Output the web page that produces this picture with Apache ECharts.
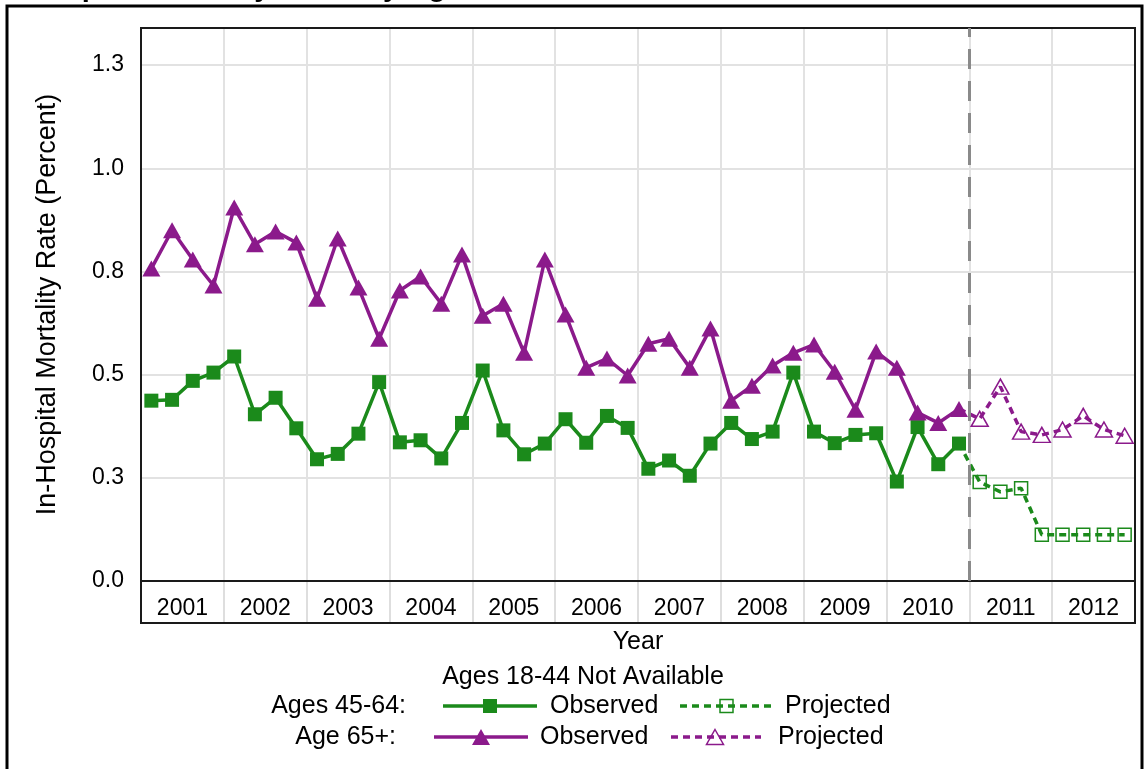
<!DOCTYPE html>
<html><head><meta charset="utf-8">
<script src="https://cdn.jsdelivr.net/npm/echarts@6/dist/echarts.min.js"></script>
<style>html,body{margin:0;padding:0;background:#fff}#c{width:1148px;height:769px}</style>
</head><body><div id="c"></div>
<script>
// ---------- DATA ----------
const years = ['2001','2002','2003','2004','2005','2006','2007','2008','2009','2010','2011','2012'];
const quarterNames = ['Q1','Q2','Q3','Q4'];
// Ages 45-64, observed 2001 Q1 .. 2010 Q4
const obs4564 = [
  0.437, 0.439, 0.485, 0.505,
  0.544, 0.404, 0.444, 0.370,
  0.295, 0.308, 0.357, 0.482,
  0.336, 0.341, 0.297, 0.383,
  0.510, 0.365, 0.307, 0.333,
  0.392, 0.335, 0.400, 0.371,
  0.272, 0.292, 0.255, 0.333,
  0.383, 0.344, 0.362, 0.505,
  0.362, 0.334, 0.354, 0.358,
  0.241, 0.373, 0.283, 0.333
];
// Ages 45-64, projected 2011 Q1 .. 2012 Q4
const proj4564 = [0.240, 0.216, 0.225, 0.112, 0.112, 0.112, 0.112, 0.112];
// Age 65+, observed
const obs65 = [
  0.757, 0.850, 0.779, 0.716,
  0.905, 0.816, 0.847, 0.820,
  0.684, 0.830, 0.711, 0.587,
  0.704, 0.738, 0.672, 0.791,
  0.643, 0.672, 0.553, 0.779,
  0.646, 0.517, 0.539, 0.498,
  0.575, 0.587, 0.517, 0.612,
  0.437, 0.473, 0.522, 0.553,
  0.573, 0.507, 0.415, 0.556,
  0.517, 0.408, 0.383, 0.417
];
// Age 65+, projected
const proj65 = [0.393, 0.471, 0.362, 0.354, 0.367, 0.400, 0.367, 0.352];
const yTickValues = [0, 0.25, 0.5, 0.75, 1.0, 1.25];
const yTickLabels = ['0.0', '0.3', '0.5', '0.8', '1.0', '1.3'];
const yMax = 1.34;

// ---------- BUILD ----------
const quarters = [];
years.forEach(y => quarterNames.forEach(q => quarters.push(y + ' ' + q)));
function projSeriesData(obs, proj) {
  const d = obs.map(() => null);
  d[obs.length - 1] = { value: obs[obs.length - 1], symbol: 'none' };
  return d.concat(proj);
}
const GREEN = '#1b8a1b';
const PURPLE = '#8b1a8b';
const FONT = 'Liberation Sans, Arial, sans-serif';

const chart = echarts.init(document.getElementById('c'), null, { renderer: 'canvas' });

const legendY1 = 706, legendY2 = 737;
function tri(cx, cy, w, h) {
  return [[cx, cy - h / 2], [cx + w / 2, cy + h / 2], [cx - w / 2, cy + h / 2]];
}

chart.setOption({
  backgroundColor: '#fff',
  animation: false,
  textStyle: { fontFamily: FONT },
  grid: [
    { left: 141, right: 13, top: 28, bottom: 188, show: true, borderColor: '#1a1a1a', borderWidth: 2, z: 3 },
    { left: 141, right: 13, top: 581, height: 42, show: true, borderColor: '#1a1a1a', borderWidth: 2, z: 3 }
  ],
  xAxis: [
    { gridIndex: 0, type: 'category', data: quarters, boundaryGap: true,
      axisLine: { show: false }, axisTick: { show: false }, axisLabel: { show: false },
      splitLine: { show: true, interval: 3, lineStyle: { color: '#e2e2e2', width: 2 } } },
    { gridIndex: 0, type: 'value', min: 0, max: quarters.length, show: false,
      axisLine: { show: false }, splitLine: { show: false } },
    { gridIndex: 1, type: 'category', data: years, boundaryGap: true, position: 'bottom',
      axisLine: { show: false }, axisTick: { show: false },
      splitLine: { show: true, interval: 0, lineStyle: { color: '#dedede', width: 2 } },
      axisLabel: { inside: true, fontSize: 23, color: '#000', margin: 3, fontFamily: FONT },
      name: 'Year', nameLocation: 'middle', nameGap: 7,
      nameTextStyle: { fontSize: 25, color: '#000', fontFamily: FONT, verticalAlign: 'top' } }
  ],
  yAxis: [
    { gridIndex: 0, type: 'value', min: 0, max: yMax, interval: 0.25,
      axisLine: { show: false }, axisTick: { show: false },
      splitLine: { show: true, lineStyle: { color: '#e2e2e2', width: 2 } },
      axisLabel: { fontSize: 23, color: '#000', margin: 17, fontFamily: FONT,
        formatter: v => { const i = yTickValues.findIndex(t => Math.abs(t - v) < 1e-6); return i >= 0 ? yTickLabels[i] : ''; } },
      name: 'In-Hospital Mortality Rate (Percent)', nameLocation: 'middle', nameGap: 80,
      nameTextStyle: { fontSize: 27, color: '#000', fontFamily: FONT } },
    { gridIndex: 1, type: 'value', show: false }
  ],
  series: [
    { name: 'marker', type: 'line', xAxisIndex: 1, yAxisIndex: 0, data: [], silent: true,
      markLine: { silent: true, symbol: ['none', 'none'], label: { show: false },
        lineStyle: { color: '#8a8a8a', width: 3, type: [20, 12] },
        data: [{ xAxis: obs4564.length }] } },
    { name: 'Ages 45-64 Observed', type: 'line', xAxisIndex: 0, yAxisIndex: 0, data: obs4564,
      symbol: 'rect', symbolSize: 14, z: 4, showSymbol: true, showAllSymbol: true,
      lineStyle: { color: GREEN, width: 3.5 }, itemStyle: { color: GREEN } },
    { name: 'Ages 45-64 Projected', type: 'line', xAxisIndex: 0, yAxisIndex: 0, data: projSeriesData(obs4564, proj4564),
      symbol: 'rect', symbolSize: 13, z: 4, showSymbol: true, showAllSymbol: true,
      lineStyle: { color: GREEN, width: 3.5, type: [7, 5] },
      itemStyle: { color: 'rgba(255,255,255,0)', borderColor: GREEN, borderWidth: 1.5 } },
    { name: 'Age 65+ Observed', type: 'line', xAxisIndex: 0, yAxisIndex: 0, data: obs65,
      symbol: 'triangle', symbolSize: [18, 16], z: 4, showSymbol: true, showAllSymbol: true,
      lineStyle: { color: PURPLE, width: 3.5 }, itemStyle: { color: PURPLE } },
    { name: 'Age 65+ Projected', type: 'line', xAxisIndex: 0, yAxisIndex: 0, data: projSeriesData(obs65, proj65),
      symbol: 'triangle', symbolSize: [17, 15], z: 4, showSymbol: true, showAllSymbol: true,
      lineStyle: { color: PURPLE, width: 3.5, type: [7, 5] },
      itemStyle: { color: 'rgba(255,255,255,0)', borderColor: PURPLE, borderWidth: 1.5 } }
  ],
  graphic: [
    { type: 'rect', shape: { x: 7, y: 6, width: 1135, height: 800 }, style: { fill: 'none', stroke: '#000', lineWidth: 3 }, silent: true },
    { type: 'text', x: 27, y: 2, style: { text: 'Hospital Mortality Rates by Age', font: 'bold 29px ' + FONT, fill: '#000', verticalAlign: 'bottom' } },
    { type: 'text', x: 583, y: 677, style: { text: 'Ages 18-44 Not Available', font: '25px ' + FONT, fill: '#000', align: 'center', verticalAlign: 'middle' } },
    { type: 'text', x: 406, y: legendY1, style: { text: 'Ages 45-64:', font: '25px ' + FONT, fill: '#000', align: 'right', verticalAlign: 'middle' } },
    { type: 'line', shape: { x1: 443, y1: legendY1, x2: 537, y2: legendY1 }, style: { stroke: GREEN, lineWidth: 3.5 } },
    { type: 'rect', shape: { x: 483, y: legendY1 - 7, width: 14, height: 14 }, style: { fill: GREEN } },
    { type: 'text', x: 550, y: legendY1, style: { text: 'Observed', font: '25px ' + FONT, fill: '#000', verticalAlign: 'middle' } },
    { type: 'line', shape: { x1: 680, y1: legendY1, x2: 771, y2: legendY1 }, style: { stroke: GREEN, lineWidth: 3.5, lineDash: [7, 5] } },
    { type: 'rect', shape: { x: 720, y: legendY1 - 6.5, width: 13, height: 13 }, style: { fill: 'rgba(255,255,255,0)', stroke: GREEN, lineWidth: 1.5 } },
    { type: 'text', x: 785, y: legendY1, style: { text: 'Projected', font: '25px ' + FONT, fill: '#000', verticalAlign: 'middle' } },
    { type: 'text', x: 396, y: legendY2, style: { text: 'Age 65+:', font: '25px ' + FONT, fill: '#000', align: 'right', verticalAlign: 'middle' } },
    { type: 'line', shape: { x1: 434, y1: legendY2, x2: 528, y2: legendY2 }, style: { stroke: PURPLE, lineWidth: 3.5 } },
    { type: 'polygon', shape: { points: tri(481, legendY2, 18, 16) }, style: { fill: PURPLE } },
    { type: 'text', x: 540, y: legendY2, style: { text: 'Observed', font: '25px ' + FONT, fill: '#000', verticalAlign: 'middle' } },
    { type: 'line', shape: { x1: 671, y1: legendY2, x2: 761, y2: legendY2 }, style: { stroke: PURPLE, lineWidth: 3.5, lineDash: [7, 5] } },
    { type: 'polygon', shape: { points: tri(715, legendY2, 17, 15) }, style: { fill: 'rgba(255,255,255,0)', stroke: PURPLE, lineWidth: 1.5 } },
    { type: 'text', x: 778, y: legendY2, style: { text: 'Projected', font: '25px ' + FONT, fill: '#000', verticalAlign: 'middle' } }
  ]
});
</script>
</body></html>
